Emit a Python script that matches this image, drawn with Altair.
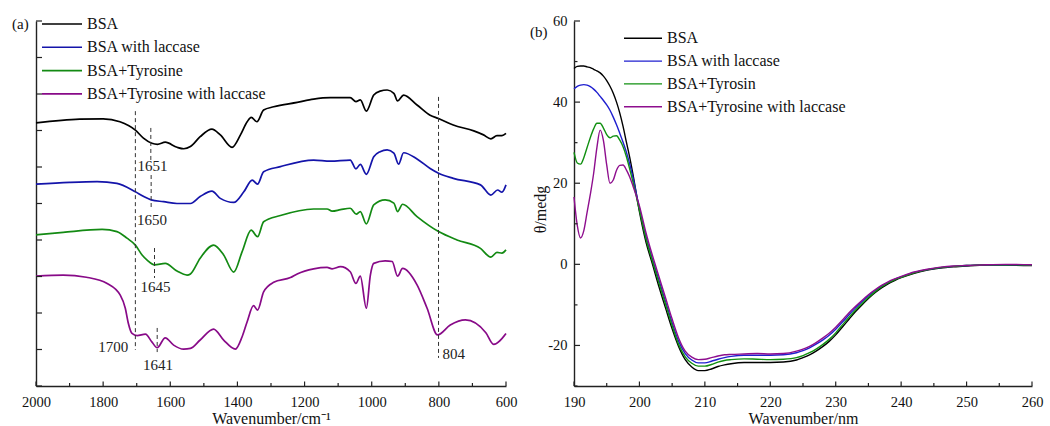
import altair as alt
import pandas as pd

FONT = "Liberation Serif"
AX = "#222222"

# ---------------- Panel (a): FTIR spectra ----------------
FT_SERIES = ["BSA", "BSA with laccase", "BSA+Tyrosine", "BSA+Tyrosine with laccase"]
FT_COLORS = ["#000000", "#1414aa", "#138a13", "#880a88"]
FT_XLABELS = [2000, 1800, 1600, 1400, 1200, 1000, 800, 600]

bsa_wn = [2000, 1870, 1800, 1750, 1704, 1680, 1655, 1638, 1615, 1580, 1560, 1540, 1511, 1476, 1451,
          1416, 1391, 1371, 1359, 1342, 1322, 1292, 1222, 1173, 1123, 1064, 1047, 1034, 1016, 994,
          975, 954, 934, 923, 905, 865, 826, 801, 757, 696, 667, 645, 627, 612, 600]
bsa_t = [72.1, 73.1, 73.2, 72.4, 70.1, 67.9, 66.5, 66.2, 66.8, 65.4, 65.0, 65.6, 68.3, 70.4, 68.8,
         65.4, 68.8, 72.4, 73.6, 72.4, 75.6, 76.5, 77.7, 78.6, 79.0, 79.0, 77.9, 78.4, 75.3, 79.7,
         80.8, 81.1, 80.2, 78.1, 79.7, 77.0, 74.2, 73.3, 71.5, 69.9, 68.8, 67.7, 68.6, 68.6, 69.2]

bsal_wn = [2000, 1900, 1818, 1759, 1704, 1679, 1657, 1620, 1580, 1540, 1511, 1476, 1451, 1411, 1381,
           1356, 1340, 1322, 1272, 1173, 1123, 1064, 1047, 1034, 1016, 994, 975, 954, 934, 920,
           905, 865, 826, 801, 757, 676, 645, 625, 612, 600]
bsal_t = [55.3, 55.8, 56.0, 55.5, 53.2, 51.9, 51.0, 50.5, 50.0, 50.0, 51.9, 53.4, 51.4, 50.3, 53.2,
          56.4, 55.3, 58.7, 60.1, 61.9, 61.6, 61.9, 59.5, 60.7, 58.0, 62.8, 64.2, 64.7, 63.8, 60.8,
          63.9, 62.2, 59.6, 58.3, 56.9, 55.1, 52.3, 53.7, 53.1, 55.1]

bsat_wn = [2000, 1919, 1803, 1759, 1729, 1704, 1684, 1669, 1647, 1615, 1580, 1550, 1540, 1511, 1471,
           1441, 1411, 1386, 1359, 1340, 1322, 1272, 1173, 1133, 1118, 1093, 1064, 1046, 1034, 1016,
           994, 960, 934, 923, 908, 865, 801, 746, 676, 645, 627, 612, 600]
bsat_t = [41.4, 42.1, 42.9, 42.3, 40.5, 38.6, 35.9, 34.5, 33.2, 33.6, 31.5, 30.4, 30.7, 35.0, 38.6,
          35.9, 31.2, 36.8, 42.7, 40.9, 45.0, 46.7, 48.5, 48.5, 47.9, 48.3, 48.7, 47.1, 47.8, 44.4,
          49.6, 51.0, 50.1, 47.8, 49.8, 46.4, 42.3, 40.0, 37.7, 35.3, 36.6, 36.4, 37.3]

bsatl_wn = [2000, 1919, 1850, 1788, 1749, 1734, 1725, 1714, 1699, 1674, 1655, 1639, 1615, 1590, 1560,
            1540, 1511, 1471, 1441, 1406, 1386, 1371, 1352, 1340, 1322, 1292, 1242, 1222, 1173, 1133,
            1118, 1093, 1064, 1047, 1034, 1016, 1004, 994, 960, 939, 923, 908, 865, 835, 804,
            766, 721, 660, 637, 600]
bsatl_t = [30.1, 30.4, 29.8, 28.1, 24.9, 21.3, 17.2, 14.4, 13.8, 14.2, 12.1, 10.5, 13.2, 11.2, 10.1,
           10.3, 12.6, 15.6, 12.6, 10.1, 13.5, 17.6, 22.0, 20.8, 25.8, 28.4, 29.7, 30.7, 32.1, 32.5,
           32.1, 32.7, 31.3, 28.1, 30.1, 21.3, 30.4, 33.6, 34.3, 34.1, 30.1, 32.2, 27.7, 21.3, 14.0,
           16.7, 18.1, 14.6, 11.4, 14.4]

# dashed marker lines (wavenumber, top, bottom)
DASH_WN = [1704, 1658, 1657, 1647, 1639, 801]
DASH_T1 = [75.3, 70.7, 57.8, 37.8, 15.9, 79.2]
DASH_T2 = [9.9, 61.9, 48.2, 29.6, 9.3, 7.7]

# peak labels
ANN_TEXT = ["1651", "1650", "1645", "1641", "804"]
ANN_WN = [1698, 1699, 1689, 1681, 789]
ANN_T = [60.3, 45.5, 27.1, 5.8, 8.8]
ANN_R_TEXT = ["1700"]
ANN_R_WN = [1725]
ANN_R_T = [10.8]

# ---------------- Panel (b): CD spectra ----------------
CD_SERIES = ["BSA", "BSA with laccase", "BSA+Tyrosin", "BSA+Tyrosine with laccase"]
CD_COLORS = ["#000000", "#1f1fcf", "#119011", "#8e0e8e"]

cd_nm = [190, 190.5, 191, 191.5, 192, 192.5, 193, 193.5, 194, 194.5, 195, 195.5, 196, 196.5, 197,
         197.5, 198, 198.5, 199, 200, 201, 202, 203, 204, 205, 206, 207, 208, 209, 210,
         211, 212, 213, 214, 216, 218, 220, 222, 224, 225, 226, 227, 228, 229, 230,
         231, 232, 233, 234, 235, 236, 237, 238, 239, 240, 242, 244, 246, 248, 250,
         253, 256, 260]
cd_bsa = [48.3, 48.8, 48.9, 48.9, 48.7, 48.5, 48.1, 47.7, 47.2, 46.4, 45.3, 43.9, 42.2, 40.0, 37.3,
          34.0, 30.2, 26.5, 22.3, 13.0, 5.5, 0.0, -5.6, -10.8, -15.9, -20.3, -23.5, -25.3, -26.2, -26.2,
          -25.8, -25.2, -24.8, -24.5, -24.2, -24.2, -24.2, -24.1, -23.6, -23.0, -22.3, -21.4, -20.3, -19.0, -17.4,
          -15.5, -13.6, -11.7, -10.0, -8.4, -7.0, -5.8, -4.8, -4.0, -3.3, -2.2, -1.4, -0.9, -0.6, -0.4,
          -0.2, -0.2, -0.3]
cd_bsal = [43.3, 43.9, 44.2, 44.3, 44.2, 43.8, 43.2, 42.4, 41.4, 40.4, 39.3, 38.0, 36.3, 34.4, 32.3,
           30.1, 27.7, 24.8, 21.5, 13.8, 6.8, 1.2, -4.0, -9.2, -14.4, -19.0, -22.0, -23.6, -24.3, -24.3,
           -23.9, -23.4, -23.0, -22.7, -22.4, -22.4, -22.4, -22.3, -21.8, -21.3, -20.6, -19.7, -18.7, -17.5, -16.0,
           -14.3, -12.5, -10.8, -9.2, -7.8, -6.5, -5.4, -4.5, -3.7, -3.1, -2.0, -1.3, -0.8, -0.5, -0.3,
           -0.1, -0.1, -0.2]
cd_bsat = [27.6, 25.0, 24.7, 26.3, 28.8, 31.3, 33.4, 34.8, 34.8, 33.6, 32.0, 31.2, 31.6, 31.7, 30.6,
           29.0, 26.6, 23.6, 20.4, 13.4, 6.3, 0.7, -4.7, -9.9, -15.1, -19.8, -22.8, -24.4, -25.1, -25.1,
           -24.7, -24.1, -23.7, -23.5, -23.3, -23.4, -23.5, -23.4, -23.0, -22.5, -21.8, -20.9, -19.8, -18.5, -16.9,
           -15.0, -13.1, -11.3, -9.7, -8.2, -6.8, -5.6, -4.6, -3.8, -3.2, -2.1, -1.3, -0.8, -0.5, -0.3,
           -0.1, -0.1, -0.2]
cd_bsatl = [16.6, 9.6, 6.5, 8.3, 12.8, 17.3, 22.4, 28.8, 33.1, 30.5, 24.5, 20.0, 20.8, 23.2, 24.4,
            24.5, 23.3, 21.6, 19.4, 14.4, 7.8, 2.1, -3.1, -8.3, -13.5, -18.2, -21.4, -22.9, -23.5, -23.4,
            -23.0, -22.6, -22.3, -22.2, -22.1, -22.0, -22.1, -22.0, -21.4, -20.9, -20.2, -19.3, -18.2, -17.0, -15.5,
            -13.8, -12.0, -10.4, -8.9, -7.5, -6.3, -5.2, -4.3, -3.6, -3.0, -1.9, -1.2, -0.7, -0.4, -0.3,
            -0.1, 0.0, -0.1]

W_A, W_B, H = 470, 458, 365

# ---------- build panel (a) ----------
rows = []
for name, wn, tt in zip(FT_SERIES, [bsa_wn, bsal_wn, bsat_wn, bsatl_wn], [bsa_t, bsal_t, bsat_t, bsatl_t]):
    assert len(wn) == len(tt), name
    rows += [{"series": name, "wn": w, "t": v} for w, v in zip(wn, tt)]
df_a = pd.DataFrame(rows)

xa = alt.X("wn:Q", scale=alt.Scale(domain=[600, 2000], reverse=True, nice=False, zero=False),
           axis=alt.Axis(values=FT_XLABELS, labelExpr="datum.value + ''", ticks=False, grid=False,
                         labelFlush=False, labelPadding=20, labelBaseline="alphabetic",
                         title="Wavenumber/cm\u207b\u00b9", titleY=37, titleBaseline="alphabetic"))
ya = alt.Y("t:Q", scale=alt.Scale(domain=[0, 100], nice=False, zero=False),
           axis=alt.Axis(labels=False, ticks=False, grid=False, title=None))

lines_a = alt.Chart(df_a).mark_line(interpolate="monotone", strokeWidth=1.7).encode(
    x=xa, y=ya,
    color=alt.Color("series:N", scale=alt.Scale(domain=FT_SERIES, range=FT_COLORS), legend=None),
    order=alt.Order("wn:Q", sort="descending"),
)

xt_a = pd.DataFrame({"wn": list(range(600, 2001, 100))})
xt_a_major = xt_a[xt_a.wn % 200 == 0]
xt_a_minor = xt_a[xt_a.wn % 200 != 0]
tick_a_major = alt.Chart(xt_a_major).mark_rule(color=AX, strokeWidth=1.2).encode(
    x=xa, y=alt.value(H), y2=alt.value(H - 4.5))
tick_a_minor = alt.Chart(xt_a_minor).mark_rule(color=AX, strokeWidth=1.2).encode(
    x=xa, y=alt.value(H), y2=alt.value(H - 3))
yt_a = pd.DataFrame({"t": list(range(0, 101, 10))})
tick_a_y = alt.Chart(yt_a).mark_rule(color=AX, strokeWidth=1.2).encode(
    x=alt.value(0), x2=alt.value(6), y=ya)

dash_df = pd.DataFrame({"wn": DASH_WN, "t": DASH_T1, "t2": DASH_T2})
dashes = alt.Chart(dash_df).mark_rule(color="#333333", strokeWidth=1, strokeDash=[4, 3]).encode(
    x=xa, y=ya, y2=alt.Y2("t2:Q"))

ann_df = pd.DataFrame({"wn": ANN_WN, "t": ANN_T, "lab": ANN_TEXT})
ann = alt.Chart(ann_df).mark_text(align="left", baseline="middle", font=FONT, fontSize=15,
                                  color="#222222").encode(x=xa, y=ya, text="lab:N")
annr_df = pd.DataFrame({"wn": ANN_R_WN, "t": ANN_R_T, "lab": ANN_R_TEXT})
annr = alt.Chart(annr_df).mark_text(align="right", baseline="middle", font=FONT, fontSize=15,
                                    color="#222222").encode(x=xa, y=ya, text="lab:N")

leg_a_df = pd.DataFrame({"name": FT_SERIES, "col": FT_COLORS, "i": list(range(4))})
leg_a_base = alt.Chart(leg_a_df).transform_calculate(ly="3 + datum.i * 23.3")
leg_a_lines = leg_a_base.mark_rule(strokeWidth=1.6).encode(
    x=alt.value(6), x2=alt.value(46), y=alt.Y("ly:Q", scale=None, axis=None),
    color=alt.Color("col:N", scale=None, legend=None))
leg_a_text = leg_a_base.mark_text(align="left", baseline="middle", font=FONT, fontSize=16,
                                  color="#111111").encode(
    x=alt.value(51), y=alt.Y("ly:Q", scale=None, axis=None), text="name:N")

lab_a = alt.Chart(pd.DataFrame({"lab": ["(a)"]})).mark_text(
    align="left", baseline="middle", font=FONT, fontSize=15, color="#111111").encode(
    x=alt.value(-24), y=alt.value(3), text="lab:N")

panel_a = alt.layer(lines_a, tick_a_major, tick_a_minor, tick_a_y, dashes, ann, annr,
                    leg_a_lines, leg_a_text, lab_a).properties(width=W_A, height=H)

# ---------- build panel (b) ----------
rows = []
for name, vals in zip(CD_SERIES, [cd_bsa, cd_bsal, cd_bsat, cd_bsatl]):
    assert len(vals) == len(cd_nm), name
    rows += [{"series": name, "nm": n, "cd": v} for n, v in zip(cd_nm, vals)]
df_b = pd.DataFrame(rows)

xb = alt.X("nm:Q", scale=alt.Scale(domain=[190, 260], nice=False, zero=False),
           axis=alt.Axis(values=list(range(190, 261, 10)), labelExpr="datum.value + ''", ticks=False,
                         grid=False, labelFlush=False, labelPadding=20, labelBaseline="alphabetic",
                         title="Wavenumber/nm", titleY=37, titleBaseline="alphabetic"))
yb = alt.Y("cd:Q", scale=alt.Scale(domain=[-30, 60], nice=False, zero=False),
           axis=alt.Axis(values=[-20, 0, 20, 40, 60], labelExpr="datum.value + ''", ticks=False,
                         grid=False, labelFlush=False, labelPadding=7, labelBaseline="middle",
                         title="\u03b8/medg", titleX=-34, titleY=188, titleBaseline="middle",
                         titleAlign="center"))

lines_b = alt.Chart(df_b).mark_line(interpolate="monotone", strokeWidth=1.4).encode(
    x=xb, y=yb,
    color=alt.Color("series:N", scale=alt.Scale(domain=CD_SERIES, range=CD_COLORS), legend=None),
    order=alt.Order("nm:Q"),
)

xt_b = pd.DataFrame({"nm": list(range(190, 261, 5))})
tick_b_major = alt.Chart(xt_b[xt_b.nm % 10 == 0]).mark_rule(color=AX, strokeWidth=1.2).encode(
    x=xb, y=alt.value(H), y2=alt.value(H - 4.5))
tick_b_minor = alt.Chart(xt_b[xt_b.nm % 10 != 0]).mark_rule(color=AX, strokeWidth=1.2).encode(
    x=xb, y=alt.value(H), y2=alt.value(H - 3))
yt_b = pd.DataFrame({"cd": list(range(-30, 61, 10))})
tick_b_ymaj = alt.Chart(yt_b[yt_b.cd % 20 == 0]).mark_rule(color=AX, strokeWidth=1.2).encode(
    x=alt.value(0), x2=alt.value(6), y=yb)
tick_b_ymin = alt.Chart(yt_b[yt_b.cd % 20 != 0]).mark_rule(color=AX, strokeWidth=1.2).encode(
    x=alt.value(0), x2=alt.value(3.5), y=yb)

leg_b_df = pd.DataFrame({"name": CD_SERIES, "col": CD_COLORS, "i": list(range(4))})
leg_b_base = alt.Chart(leg_b_df).transform_calculate(ly="17.3 + datum.i * 22.8")
leg_b_lines = leg_b_base.mark_rule(strokeWidth=1.4).encode(
    x=alt.value(50), x2=alt.value(88), y=alt.Y("ly:Q", scale=None, axis=None),
    color=alt.Color("col:N", scale=None, legend=None))
leg_b_text = leg_b_base.mark_text(align="left", baseline="middle", font=FONT, fontSize=16,
                                  color="#111111").encode(
    x=alt.value(93), y=alt.Y("ly:Q", scale=None, axis=None), text="name:N")

lab_b = alt.Chart(pd.DataFrame({"lab": ["(b)"]})).mark_text(
    align="left", baseline="middle", font=FONT, fontSize=15, color="#111111").encode(
    x=alt.value(-44), y=alt.value(11), text="lab:N")

panel_b = alt.layer(lines_b, tick_b_major, tick_b_minor, tick_b_ymaj, tick_b_ymin,
                    leg_b_lines, leg_b_text, lab_b).properties(width=W_B, height=H)

chart = alt.hconcat(panel_a, panel_b, spacing=68, bounds="flush").resolve_scale(
    color="independent", x="independent", y="independent"
).properties(
    autosize=alt.AutoSizeParams(type="none"),
    padding={"left": 36, "top": 21, "right": 1014, "bottom": 405},
).configure_view(stroke=None).configure_axis(
    domainColor=AX, domainWidth=1.4, labelFont=FONT, labelFontSize=14.5, labelColor="#111111",
    titleFont=FONT, titleFontSize=16, titleFontWeight="normal", titleColor="#111111",
)

chart.save("out.html", embed_options={"renderer": "svg", "actions": False})
